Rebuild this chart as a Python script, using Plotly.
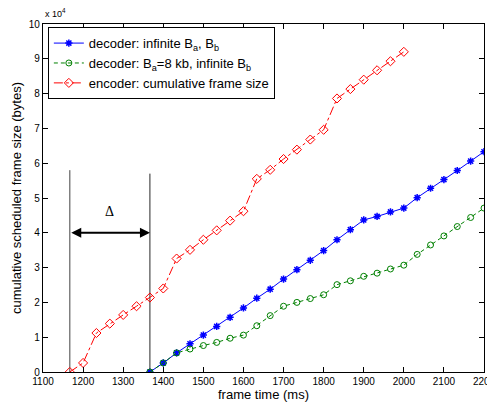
import plotly.graph_objects as go

# frame times (ms)
enc_t = [1166.7, 1200, 1233.3, 1266.7, 1300, 1333.3, 1366.7, 1400, 1433.3, 1466.7,
         1500, 1533.3, 1566.7, 1600, 1633.3, 1666.7, 1700, 1733.3, 1766.7, 1800,
         1833.3, 1866.7, 1900, 1933.3, 1966.7, 2000]
dec_t = [1366.7, 1400, 1433.3, 1466.7, 1500, 1533.3, 1566.7, 1600, 1633.3, 1666.7,
         1700, 1733.3, 1766.7, 1800, 1833.3, 1866.7, 1900, 1933.3, 1966.7, 2000,
         2033.3, 2066.7, 2100, 2133.3, 2166.7, 2200]

# cumulative sizes (x 10^4 bytes)
enc_cum = [0, 0.26, 1.12, 1.39, 1.64, 1.89, 2.14, 2.40, 3.26, 3.51,
           3.80, 4.07, 4.35, 4.62, 5.55, 5.81, 6.12, 6.39, 6.68, 6.96,
           7.86, 8.13, 8.40, 8.67, 8.93, 9.20]
dec_inf = [0, 0.26, 0.55, 0.81, 1.06, 1.31, 1.57, 1.84, 2.12, 2.38,
           2.67, 2.94, 3.21, 3.49, 3.80, 4.09, 4.37, 4.47, 4.60, 4.71,
           5.01, 5.28, 5.53, 5.79, 6.06, 6.33]
dec_8kb = [0, 0.26, 0.55, 0.66, 0.76, 0.85, 0.97, 1.06, 1.33, 1.62,
           1.89, 2.00, 2.11, 2.22, 2.51, 2.62, 2.75, 2.84, 2.96, 3.07,
           3.38, 3.65, 3.91, 4.18, 4.44, 4.71]

x_ticks = [1100, 1200, 1300, 1400, 1500, 1600, 1700, 1800, 1900, 2000, 2100, 2200]
y_ticks = [0, 1, 2, 3, 4, 5, 6, 7, 8, 9, 10]

# delta marker
delta_line_tops = [5.8, 5.7]
delta_arrow_y = 4.0
delta_label_y = 4.6

FONT = "Liberation Sans, Arial, sans-serif"

fig = go.Figure()
fig.add_trace(go.Scatter(
    x=dec_t, y=dec_inf, mode="lines+markers",
    name="decoder: infinite B<sub>a</sub>, B<sub>b</sub>",
    line=dict(color="rgb(0,0,255)", width=1),
    marker=dict(symbol="asterisk-open", size=6, color="rgb(0,0,255)",
                line=dict(color="rgb(0,0,255)", width=1.5))))
fig.add_trace(go.Scatter(
    x=dec_t, y=dec_8kb, mode="lines+markers",
    name="decoder: B<sub>a</sub>=8 kb, infinite B<sub>b</sub>",
    line=dict(color="rgb(0,128,0)", width=1, dash="4px,3px"),
    marker=dict(symbol="circle-open", size=6, color="rgb(0,128,0)",
                line=dict(color="rgb(0,128,0)", width=1))))
fig.add_trace(go.Scatter(
    x=enc_t, y=enc_cum, mode="lines+markers",
    name="encoder: cumulative frame size",
    line=dict(color="rgb(255,0,0)", width=1, dash="dashdot"),
    marker=dict(symbol="diamond-open", size=7, color="rgb(255,0,0)",
                line=dict(color="rgb(255,0,0)", width=1))))

# vertical lines at encoder start and decoder start
fig.add_shape(type="line", xref="x", yref="y", x0=enc_t[0], x1=enc_t[0],
              y0=0, y1=delta_line_tops[0], line=dict(color="rgb(128,128,128)", width=1.5),
              layer="below")
fig.add_shape(type="line", xref="x", yref="y", x0=dec_t[0], x1=dec_t[0],
              y0=0, y1=delta_line_tops[1], line=dict(color="rgb(40,40,40)", width=1),
              layer="below")

# double-headed arrow
fig.add_annotation(x=dec_t[0], y=delta_arrow_y, ax=enc_t[0], ay=delta_arrow_y,
                   xref="x", yref="y", axref="x", ayref="y", text="",
                   showarrow=True, arrowhead=2, startarrowhead=2, arrowside="end+start",
                   arrowsize=1, startarrowsize=1, arrowwidth=2, arrowcolor="black")
fig.add_annotation(x=(enc_t[0] + dec_t[0]) / 2, y=delta_label_y, text="Δ",
                   showarrow=False, xref="x", yref="y",
                   font=dict(family="Liberation Serif, Times New Roman, serif", size=14, color="black"))

# exponent label
fig.add_annotation(x=0, y=1, xref="paper", yref="paper", xanchor="left", yanchor="bottom",
                   yshift=3, text="x 10<sup>4</sup>", showarrow=False,
                   font=dict(family=FONT, size=9, color="black"))

axis_common = dict(showgrid=False, zeroline=False, showline=True, linecolor="black",
                   linewidth=1.2, mirror="ticks", ticks="inside", ticklen=5,
                   tickcolor="black", automargin=False, ticklabeloverflow="allow",
                   tickfont=dict(family=FONT, size=10, color="black"))

fig.update_xaxes(range=[1100, 2200], tickvals=x_ticks, ticktext=[str(v) for v in x_ticks],
                 title=dict(text="frame time (ms)", font=dict(family=FONT, size=13, color="black"),
                            standoff=0),
                 **axis_common)
fig.update_yaxes(range=[0, 10], tickvals=y_ticks, ticktext=[str(v) for v in y_ticks],
                 title=dict(text="cumulative scheduled frame size (bytes)",
                            font=dict(family=FONT, size=13, color="black"), standoff=4),
                 **axis_common)

# the page body adds an 8px offset at left/top, so the figure is sized to compensate
fig.update_layout(
    width=495, height=395,
    margin=dict(l=35, r=19, t=16, b=31, pad=0),
    plot_bgcolor="white", paper_bgcolor="white",
    font=dict(family=FONT, size=13, color="black"),
    showlegend=True,
    legend=dict(x=0.011, y=0.991, xanchor="left", yanchor="top",
                bgcolor="white", bordercolor="black", borderwidth=1,
                font=dict(family=FONT, size=13, color="black"),
                tracegroupgap=0, itemwidth=30),
)

fig.write_html("out.html")
